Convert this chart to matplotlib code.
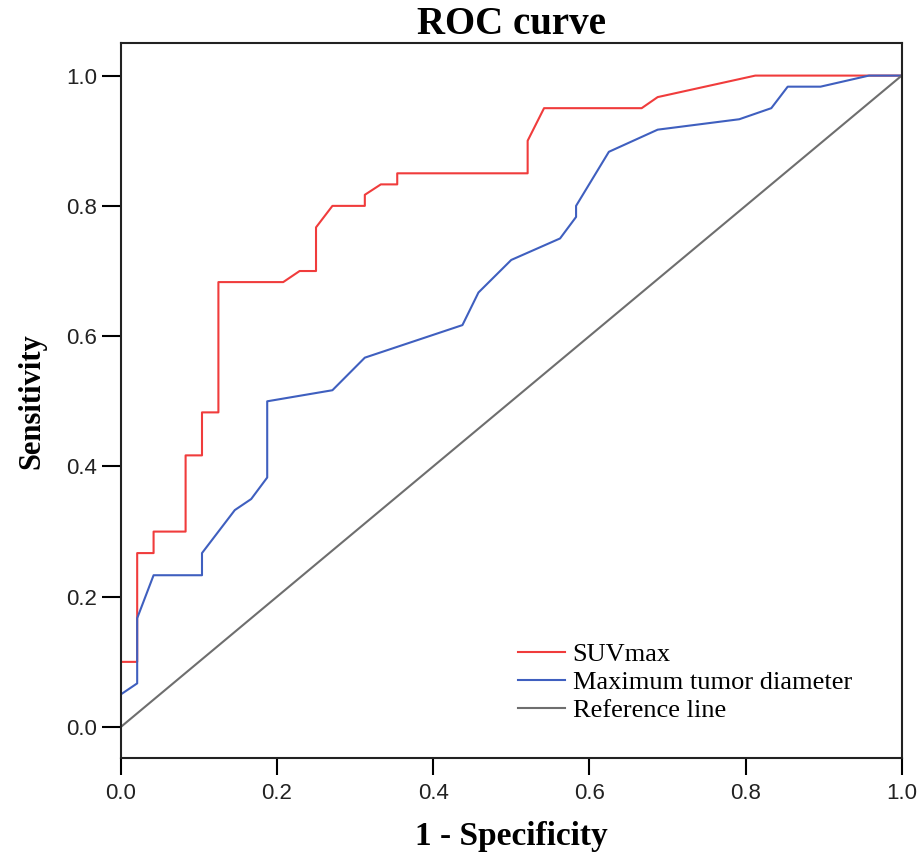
import matplotlib.pyplot as plt

# ROC points (1 - specificity, sensitivity)
suv_fpr = [0.0, 0.0, 0.021, 0.021, 0.042, 0.042, 0.083, 0.083, 0.104, 0.104,
           0.125, 0.125, 0.208, 0.229, 0.25, 0.25, 0.271, 0.3125, 0.3125, 0.333,
           0.354, 0.354, 0.521, 0.521, 0.542, 0.667, 0.6875, 0.8125, 1.0]
suv_tpr = [0.0, 0.1, 0.1, 0.267, 0.267, 0.3, 0.3, 0.417, 0.417, 0.483,
           0.483, 0.683, 0.683, 0.7, 0.7, 0.767, 0.8, 0.8, 0.817, 0.833,
           0.833, 0.85, 0.85, 0.9, 0.95, 0.95, 0.967, 1.0, 1.0]

diam_fpr = [0.0, 0.0, 0.021, 0.021, 0.042, 0.104, 0.104, 0.146, 0.167, 0.1875,
            0.1875, 0.271, 0.3125, 0.4375, 0.458, 0.5, 0.5625, 0.583, 0.583,
            0.625, 0.6875, 0.792, 0.833, 0.854, 0.896, 0.958, 1.0]
diam_tpr = [0.0, 0.05, 0.067, 0.167, 0.233, 0.233, 0.267, 0.333, 0.35, 0.383,
            0.5, 0.517, 0.567, 0.617, 0.667, 0.717, 0.75, 0.783, 0.8,
            0.883, 0.917, 0.933, 0.95, 0.983, 0.983, 1.0, 1.0]

ref_line = [0.0, 1.0]
ticks = [0.0, 0.2, 0.4, 0.6, 0.8, 1.0]
tick_labels = ['0.0', '0.2', '0.4', '0.6', '0.8', '1.0']

fig = plt.figure(figsize=(9.22, 8.52), dpi=100)
ax = fig.add_axes([0.131, 0.110, 0.847, 0.8395])

ax.plot(suv_fpr, suv_tpr, color='#f03c3c', linewidth=1.5, label='SUVmax')
ax.plot(diam_fpr, diam_tpr, color='#3f5fbf', linewidth=1.5, label='Maximum tumor diameter')
ax.plot(ref_line, ref_line, color='#6e6e6e', linewidth=1.5, label='Reference line')

ax.set_xlim(0, 1)
ax.set_ylim(-0.048, 1.05)

ax.set_xticks(ticks)
ax.set_xticklabels(tick_labels, family='Liberation Sans', fontsize=16, color='#222222')
ax.set_yticks(ticks)
ax.set_yticklabels(tick_labels, family='Liberation Sans', fontsize=16, color='#222222')
ax.tick_params(axis='x', length=12, width=1.5, pad=6)
ax.tick_params(axis='y', length=14, width=1.5, pad=3)

for side in ax.spines.values():
    side.set_linewidth(1.5)
    side.set_color('#222222')

ax.set_title('ROC curve', family='Liberation Serif', fontweight='bold', fontsize=28, pad=2)
ax.set_xlabel('1 - Specificity', family='Liberation Serif', fontweight='bold', fontsize=24, labelpad=12)
ax.set_ylabel('Sensitivity', family='Liberation Serif', fontweight='bold', fontsize=22, labelpad=14)

leg = ax.legend(loc='upper left', bbox_to_anchor=(0.495, 0.176), frameon=False,
                prop={'family': 'Liberation Serif', 'size': 19},
                handlelength=1.8, handletextpad=0.27, labelspacing=0.16, borderaxespad=0)

fig.savefig('out.png', dpi=100)
